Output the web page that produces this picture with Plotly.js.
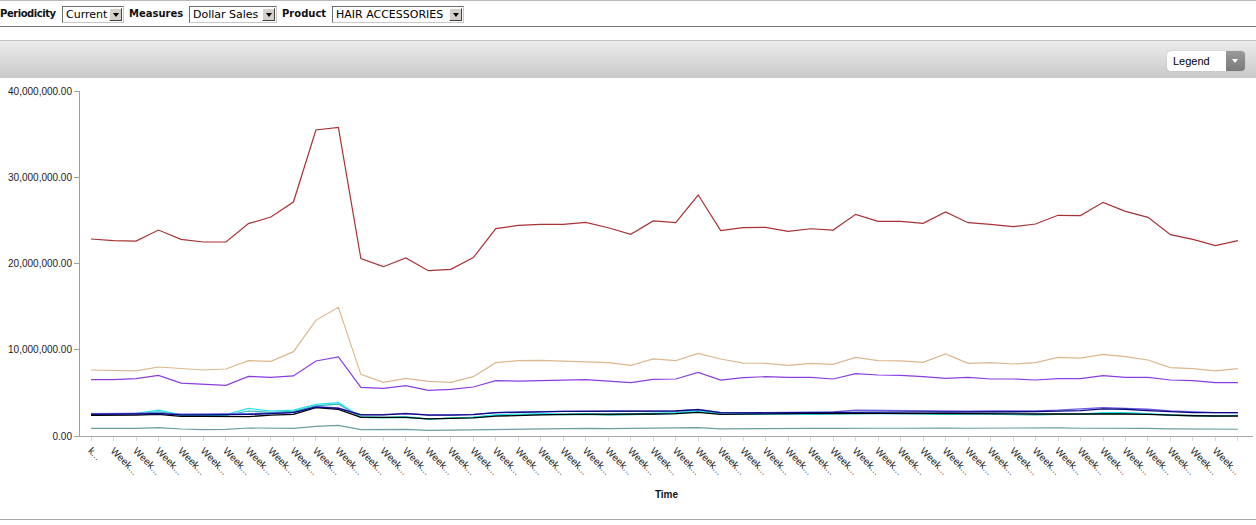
<!DOCTYPE html>
<html><head><meta charset="utf-8">
<script src="https://cdn.plot.ly/plotly-3.0.1.min.js"></script>
<style>
html,body{margin:0;padding:0;background:#fff;width:1256px;height:525px;overflow:hidden;font-family:"DejaVu Sans",Verdana,sans-serif;}
#toolbar{position:absolute;left:0;top:0;width:1256px;height:27px;border-top:1px solid #b8b8b8;border-bottom:1px solid #7a7a7a;box-sizing:border-box;background:#fff;}
.lbl{position:absolute;top:7px;font-size:10px;font-weight:bold;color:#111;white-space:nowrap;}
.sel{position:absolute;top:5px;height:17px;border:1px solid #7f9db9;border-color:#6d6d6d #c8c8c8 #c8c8c8 #6d6d6d;box-sizing:border-box;background:#fff;font-size:11px;line-height:15px;padding-left:3px;color:#000;white-space:nowrap;}
.arr{position:absolute;right:1px;top:1px;width:13px;height:13px;background:#d4d0c8;box-sizing:border-box;border:1px solid;border-color:#fff #404040 #404040 #fff;}
.arr:after{content:"";position:absolute;left:3px;top:4px;border-left:3px solid transparent;border-right:3px solid transparent;border-top:4px solid #000;}
#bar{position:absolute;left:0;top:40px;width:1256px;height:38px;border-top:1px solid #c0c0c0;box-sizing:border-box;background:linear-gradient(#ececec,#c9c9c9);}
#legendbtn{position:absolute;left:1167px;top:10px;width:78px;height:20px;background:#fff;border-radius:4px;box-shadow:0 0 1px #999;overflow:hidden;font-family:"Liberation Sans",Arial,sans-serif;font-size:11px;color:#000;line-height:20px;}
#legendbtn span{position:absolute;left:6px;}
#legendbtn .dd{position:absolute;right:0;top:0;width:19px;height:20px;background:linear-gradient(#9a9a9a,#7a7a7a);}
#legendbtn .dd:after{content:"";position:absolute;left:6px;top:8px;border-left:3px solid transparent;border-right:3px solid transparent;border-top:4px solid #fff;}
#chart{position:absolute;left:0;top:78px;width:1256px;height:441px;}
#bottomline{position:absolute;left:0;top:519px;width:1256px;height:1px;background:#a8a8a8;}
</style>
</head>
<body>
<div id="toolbar">
  <div class="lbl" style="left:0px;letter-spacing:-0.45px;">Periodicity</div>
  <div class="sel" style="left:62px;width:62px;">Current<div class="arr"></div></div>
  <div class="lbl" style="left:129px;">Measures</div>
  <div class="sel" style="left:189px;width:88px;">Dollar Sales<div class="arr"></div></div>
  <div class="lbl" style="left:282px;">Product</div>
  <div class="sel" style="left:332px;width:132px;">HAIR ACCESSORIES<div class="arr"></div></div>
</div>
<div id="bar"><div id="legendbtn"><span>Legend</span><div class="dd"></div></div></div>
<div id="chart"></div>
<div id="bottomline"></div>
<script>
// Tick labels as shown (truncated in the original)
const weekLabels = ["k...","Week...","Week...","Week...","Week...","Week...","Week...","Week...","Week...","Week...",
  "Week...","Week...","Week...","Week...","Week...","Week...","Week...","Week...","Week...","Week...",
  "Week...","Week...","Week...","Week...","Week...","Week...","Week...","Week...","Week...","Week...",
  "Week...","Week...","Week...","Week...","Week...","Week...","Week...","Week...","Week...","Week...",
  "Week...","Week...","Week...","Week...","Week...","Week...","Week...","Week...","Week...","Week...",
  "Week...","Week..."];

// Dollar sales, in millions
const seriesRed = [22.84,22.65,22.60,23.88,22.80,22.49,22.49,24.62,25.39,27.13,
  35.48,35.79,20.56,19.63,20.64,19.17,19.32,20.68,24.04,24.43,
  24.54,24.54,24.77,24.15,23.38,24.93,24.73,27.94,23.81,24.15,
  24.19,23.73,24.03,23.88,25.70,24.89,24.89,24.66,25.97,24.73,
  24.54,24.27,24.58,25.59,25.55,27.09,26.05,25.35,23.34,22.80,
  22.07,22.65];
const seriesTan = [7.65,7.64,7.56,8.00,7.81,7.65,7.77,8.73,8.66,9.78,
  13.41,14.92,7.15,6.22,6.69,6.34,6.22,6.88,8.50,8.73,
  8.77,8.69,8.66,8.50,8.19,8.93,8.74,9.58,8.93,8.46,
  8.43,8.19,8.43,8.31,9.12,8.74,8.70,8.54,9.51,8.43,
  8.50,8.35,8.50,9.12,9.04,9.47,9.20,8.81,7.92,7.81,
  7.54,7.81];
const seriesPurple = [6.53,6.53,6.65,7.03,6.14,5.99,5.87,6.92,6.80,6.96,
  8.70,9.16,5.64,5.52,5.84,5.29,5.41,5.68,6.41,6.37,
  6.41,6.45,6.53,6.37,6.18,6.56,6.61,7.38,6.49,6.76,
  6.88,6.80,6.80,6.61,7.23,7.07,7.03,6.88,6.69,6.80,
  6.61,6.61,6.49,6.65,6.65,6.99,6.80,6.80,6.49,6.42,
  6.18,6.18];
const seriesNavy = [2.50,2.50,2.55,2.60,2.45,2.45,2.45,2.50,2.60,2.70,
  3.35,3.20,2.45,2.45,2.60,2.42,2.42,2.48,2.70,2.78,
  2.80,2.85,2.85,2.82,2.85,2.86,2.90,3.05,2.70,2.68,
  2.70,2.72,2.72,2.75,2.80,2.80,2.80,2.80,2.78,2.78,
  2.80,2.80,2.82,2.88,2.95,3.15,3.10,2.95,2.80,2.72,
  2.70,2.72];
const seriesSlate = [2.58,2.58,2.62,2.65,2.52,2.52,2.52,2.58,2.65,2.75,
  3.40,3.25,2.48,2.48,2.62,2.45,2.45,2.50,2.72,2.80,
  2.82,2.86,2.86,2.84,2.86,2.88,2.92,3.08,2.72,2.70,
  2.72,2.75,2.75,2.78,3.00,2.97,2.92,2.90,2.90,2.88,
  2.90,2.90,2.92,3.00,3.10,3.28,3.20,3.10,2.90,2.78,
  2.72,2.72];
const seriesBlack = [2.40,2.40,2.43,2.51,2.28,2.28,2.24,2.24,2.43,2.51,
  3.28,3.09,2.16,2.12,2.16,1.98,2.05,2.10,2.30,2.40,
  2.45,2.50,2.50,2.52,2.52,2.55,2.60,2.74,2.50,2.55,
  2.60,2.62,2.62,2.62,2.65,2.63,2.63,2.63,2.60,2.60,
  2.60,2.58,2.55,2.55,2.55,2.60,2.55,2.50,2.40,2.35,
  2.32,2.32];
const seriesCyan = [2.63,2.55,2.63,3.01,2.47,2.47,2.47,3.20,2.90,3.00,
  3.67,3.86,2.24,2.17,2.24,1.97,2.12,2.20,2.45,2.55,
  2.60,2.55,2.60,2.50,2.55,2.60,2.70,2.95,2.60,2.55,
  2.60,2.60,2.55,2.60,2.70,2.65,2.60,2.55,2.55,2.60,
  2.55,2.55,2.50,2.55,2.55,2.70,2.70,2.60,2.45,2.40,
  2.35,2.40];
const seriesTeal = [2.55,2.50,2.55,2.80,2.40,2.40,2.40,2.90,2.75,2.85,
  3.50,3.70,2.15,2.10,2.15,1.95,2.05,2.15,2.40,2.45,
  2.50,2.45,2.50,2.42,2.48,2.50,2.60,2.85,2.55,2.50,
  2.55,2.55,2.50,2.55,2.60,2.58,2.55,2.50,2.50,2.55,
  2.50,2.50,2.45,2.50,2.50,2.62,2.62,2.55,2.40,2.35,
  2.30,2.35];
const seriesCadet = [0.89,0.87,0.89,0.97,0.81,0.74,0.77,0.93,0.89,0.89,
  1.12,1.23,0.74,0.74,0.77,0.66,0.70,0.72,0.77,0.80,
  0.85,0.88,0.88,0.85,0.88,0.90,0.92,0.98,0.82,0.85,
  0.88,0.90,0.88,0.88,0.92,0.90,0.90,0.95,0.92,0.90,
  0.92,0.88,0.88,0.95,0.90,0.90,0.92,0.88,0.82,0.80,
  0.78,0.78];
const yTicks = [0, 10000000, 20000000, 30000000, 40000000];

const xIdx = weekLabels.map((_, i) => i);
const toDollars = arr => arr.map(v => v * 1e6);

const specs = [
  {name: "Series 9", y: seriesCadet, color: "#6a9ea0", w: 1.2},
  {name: "Series 8", y: seriesTeal, color: "#2bb5b0", w: 1.2},
  {name: "Series 7", y: seriesCyan, color: "#22e4f0", w: 1.2},
  {name: "Series 6", y: seriesBlack, color: "#000000", w: 1.3},
  {name: "Series 5", y: seriesSlate, color: "#6c5ce8", w: 1.3},
  {name: "Series 4", y: seriesNavy, color: "#0a0a80", w: 1.3},
  {name: "Series 3", y: seriesPurple, color: "#8a3ee0", w: 1.2},
  {name: "Series 2", y: seriesTan, color: "#dcb88e", w: 1.2},
  {name: "Series 1", y: seriesRed, color: "#a83236", w: 1.2}
];
const traces = specs.map(s => ({
  type: "scatter", mode: "lines", name: s.name,
  x: xIdx, y: toDollars(s.y),
  line: {color: s.color, width: s.w},
  hoverinfo: "skip"
}));

const layout = {
  width: 1256, height: 441,
  margin: {l: 80, r: 3, t: 13, b: 83},
  paper_bgcolor: "rgba(0,0,0,0)", plot_bgcolor: "rgba(0,0,0,0)",
  showlegend: false,
  xaxis: {
    range: [-0.49, 51.67], tickmode: "array", tickvals: xIdx, ticktext: weekLabels,
    tickangle: 45, ticks: "outside", ticklen: 4, tickcolor: "#d8d8d8",
    showline: true, linecolor: "#a8a8a8", linewidth: 1,
    showgrid: false, zeroline: false, automargin: false,
    tickfont: {family: "Liberation Sans, Arial, sans-serif", size: 10, color: "#222"},
    title: {text: "Time", font: {family: "Liberation Sans, Arial, sans-serif", size: 10, color: "#111", weight: "bold"}, standoff: 15}
  },
  yaxis: {
    range: [0, 40000000], tickmode: "array", tickvals: yTicks, tickformat: ",.2f",
    ticks: "outside", ticklen: 5, tickcolor: "#a0a0a0",
    showline: true, linecolor: "#a0a0a0", linewidth: 1,
    showgrid: false, zeroline: false, automargin: false,
    tickfont: {family: "Liberation Sans, Arial, sans-serif", size: 10, color: "#222"}
  }
};
Plotly.newPlot("chart", traces, layout, {staticPlot: true, displayModeBar: false});
</script>
</body></html>
